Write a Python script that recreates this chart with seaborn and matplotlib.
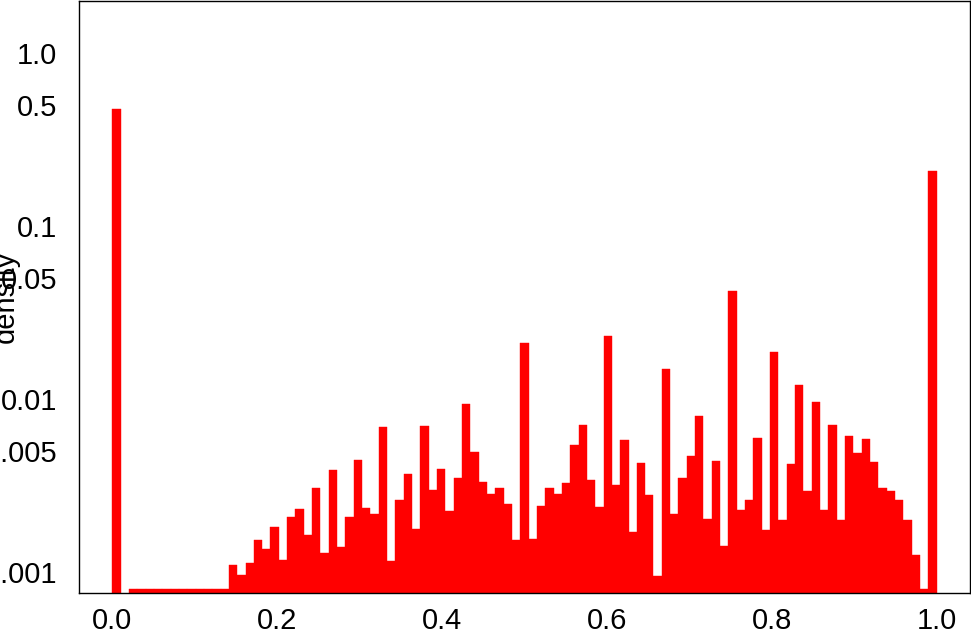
import numpy as np
import pandas as pd
import matplotlib
matplotlib.use("Agg")
import matplotlib.pyplot as plt
import seaborn as sns
from matplotlib.ticker import FixedLocator, NullLocator

# 99 equal bins on [0, 1]; densities (log scale)
floor = 0.00079
density = [
    0.476, 0.0, floor, floor, floor, floor, floor, floor, floor, floor,
    floor, floor, floor, floor, 0.00109, 0.000957, 0.00112, 0.00153, 0.00135, 0.00180,
    0.00117, 0.00208, 0.00231, 0.00162, 0.00306, 0.00128, 0.00385, 0.00139, 0.00208, 0.00444,
    0.00232, 0.00215, 0.00682, 0.00115, 0.00259, 0.00366, 0.00177, 0.00698, 0.00296, 0.00393,
    0.00225, 0.00346, 0.00927, 0.00491, 0.00331, 0.00282, 0.00305, 0.00245, 0.00153, 0.0210,
    0.00155, 0.00240, 0.00305, 0.00282, 0.00325, 0.00539, 0.00703, 0.00340, 0.00236, 0.0230,
    0.00315, 0.00579, 0.00170, 0.00426, 0.00279, 0.000944, 0.01484, 0.00215, 0.00346, 0.00468,
    0.00797, 0.00201, 0.00435, 0.00141, 0.0422, 0.00226, 0.00260, 0.00595, 0.00175, 0.0187,
    0.00200, 0.00420, 0.01205, 0.00292, 0.00952, 0.00226, 0.00707, 0.00199, 0.00605, 0.00487,
    0.00587, 0.00428, 0.00306, 0.00291, 0.00259, 0.00200, 0.00125, floor, 0.208,
]
n_bins = len(density)
edges = np.linspace(0, 1, n_bins + 1)
centers = (edges[:-1] + edges[1:]) / 2
df = pd.DataFrame({"value": centers, "density": density})

ytick_vals = [0.001, 0.005, 0.01, 0.05, 0.1, 0.5, 1.0]
ytick_labels = ["0.001", "0.005", "0.01", "0.05", "0.1", "0.5", "1.0"]
xtick_vals = [0.0, 0.2, 0.4, 0.6, 0.8, 1.0]
xtick_labels = ["0.0", "0.2", "0.4", "0.6", "0.8", "1.0"]

sns.set_style("white")
plt.rcParams['font.family'] = ['Liberation Sans', 'DejaVu Sans']

fig = plt.figure(figsize=(9.71, 6.29), dpi=100)
ax = fig.add_axes([0.0817, 0.0575, 0.9168, 0.9413])

sns.histplot(data=df, x="value", weights="density", bins=list(edges),
             color="red", alpha=1, edgecolor="red", linewidth=0.3, ax=ax)

ax.set_yscale("log")
ax.set_xlim(-0.04, 1.04)
ax.set_ylim(0.000753, 2.01)

ax.yaxis.set_major_locator(FixedLocator(ytick_vals))
ax.yaxis.set_minor_locator(NullLocator())
ax.set_yticklabels(ytick_labels)
ax.set_xticks(xtick_vals)
ax.set_xticklabels(xtick_labels)

ax.tick_params(axis="both", direction="out", length=9, width=1, color="#444444",
               labelsize=21, labelcolor="black")
ax.tick_params(axis="y", pad=7)
ax.tick_params(axis="x", pad=1)

for s in ax.spines.values():
    s.set_visible(True)
    s.set_color("black")
    s.set_linewidth(1)

ax.set_xlabel("")
ax.set_ylabel("density", fontsize=21, color="black")
ax.yaxis.set_label_coords(-0.067, 0.5)

fig.savefig("out.png", dpi=100)
